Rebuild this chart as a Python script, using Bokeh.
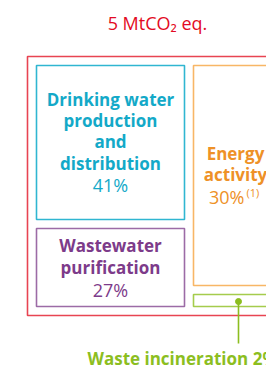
from bokeh.plotting import figure
from bokeh.models import Range1d, ColumnDataSource
from bokeh.core.properties import value
from bokeh.embed import file_html
from bokeh.resources import INLINE

# ---- data ----
total_label = "5 MtCO\u2082 eq."
categories = ["Drinking water production and distribution", "Wastewater purification",
              "Energy activity", "Waste incineration"]
shares = [41, 27, 30, 2]
label_lines = [["Drinking water", "production", "and", "distribution"],
               ["Wastewater", "purification"],
               ["Energy", "activity"],
               ["Waste incineration"]]
footnote = "(1)"

# ---- layout (page pixel coordinates) ----
outer = dict(x0=27, x1=290, y0=56, y1=315)
boxes = [dict(x0=36, x1=184, y0=65, y1=219, cx=110, ys=[99, 120, 141, 163, 184]),
         dict(x0=36, x1=184, y0=228, y1=306, cx=110, ys=[245, 267, 289]),
         dict(x0=193, x1=280, y0=65, y1=285, cx=235, ys=[153, 174, 196]),
         dict(x0=193, x1=280, y0=294, y1=306, cx=238, ys=[])]
text_colors = ["#13A9C8", "#7D3B8A", "#EE9127", "#8CBE1F"]
line_colors = ["#30B6D1", "#9C6BA6", "#F8B666", "#A5CC4C"]
red = "#E30A23"
FONT = "Open Sans"
FSB = "17px"   # bold labels
FSR = "18px"   # regular texts

p = figure(width=266, height=369, x_range=Range1d(0, 266), y_range=Range1d(369, 0),
           output_backend="svg", toolbar_location=None, min_border=0)
p.axis.visible = False
p.grid.visible = False
p.outline_line_color = None
p.background_fill_color = "white"

# outer rectangle
p.quad(left=[outer["x0"]], right=[outer["x1"]], top=[outer["y0"]], bottom=[outer["y1"]],
       fill_alpha=0, line_color="#E84452", line_width=1.6)

# boxes
src = ColumnDataSource(dict(left=[b["x0"] for b in boxes], right=[b["x1"] for b in boxes],
                            top=[b["y0"] for b in boxes], bottom=[b["y1"] for b in boxes],
                            color=line_colors))
p.quad(left="left", right="right", top="top", bottom="bottom", source=src,
       fill_alpha=0, line_color="color", line_width=1.6)

# title
p.text(x=[157], y=[22], text=[total_label], text_color=red, text_font=value(FONT),
       text_font_size=FSR, text_align="center", text_baseline="middle")

# labels for first three boxes
for i in range(3):
    b = boxes[i]
    lines = label_lines[i]
    p.text(x=[b["cx"]] * len(lines), y=b["ys"][:len(lines)], text=lines,
           text_color=text_colors[i], text_font=value(FONT), text_font_size=FSB,
           text_font_style="bold", text_align="center", text_baseline="middle")
    pct = f"{shares[i]}%"
    if i == 2:
        p.text(x=[b["cx"] + 9], y=[b["ys"][-1]], text=[pct], text_color=text_colors[i],
               text_font=value(FONT), text_font_size=FSR, text_align="right",
               text_baseline="middle")
        p.text(x=[b["cx"] + 11], y=[b["ys"][-1] - 4], text=[footnote], text_color=text_colors[i],
               text_font=value(FONT), text_font_size="11px", text_align="left",
               text_baseline="middle")
    else:
        p.text(x=[b["cx"]], y=[b["ys"][-1]], text=[pct], text_color=text_colors[i],
               text_font=value(FONT), text_font_size=FSR, text_align="center",
               text_baseline="middle")

# waste incineration callout
g = boxes[3]
p.segment(x0=[g["cx"]], y0=[301], x1=[g["cx"]], y1=[343], line_color=text_colors[3], line_width=1.6)
p.scatter(x=[g["cx"]], y=[301], size=6, color=text_colors[3])
p.text(x=[87], y=[358], text=[f"{label_lines[3][0]} {shares[3]}%"], text_color=text_colors[3],
       text_font=value(FONT), text_font_size=FSB, text_font_style="bold",
       text_align="left", text_baseline="middle")

open("out.html", "w").write(file_html(p, INLINE))
